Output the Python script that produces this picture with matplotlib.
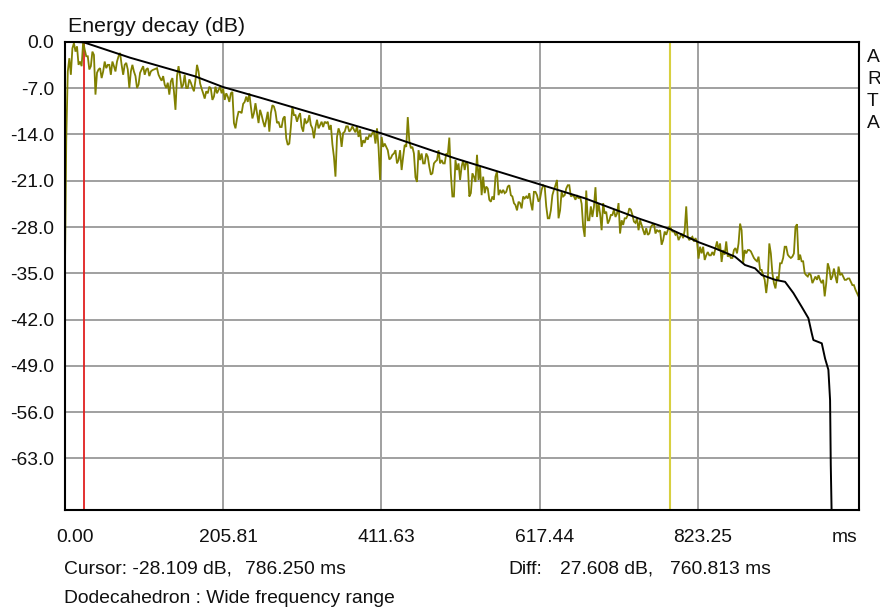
import numpy as np
import matplotlib
matplotlib.use("Agg")
import matplotlib.pyplot as plt

# Energy envelope (dB), sampled every 2 ms starting at 0 ms (10 samples per row)
time_step_ms = 2.0
energy_db = [
    -38.5, -15.0, -4.5, -2.5, -5.0, -1.0, -0.2, -1.5, -0.7, -3.5,
    -3.0, -3.7, 0.0, -1.2, -2.2, -2.2, -4.2, -3.7, -1.5, -2.0,
    -8.0, -4.7, -4.2, -4.0, -5.5, -4.5, -3.0, -4.0, -3.5, -3.5,
    -5.0, -3.0, -3.7, -4.5, -3.0, -2.2, -1.7, -3.5, -5.0, -3.5,
    -3.2, -4.2, -7.0, -4.5, -3.5, -4.5, -5.2, -7.0, -6.5, -4.7,
    -4.2, -3.7, -5.0, -4.2, -4.0, -5.2, -4.5, -4.3, -4.2, -4.1,
    -4.0, -5.0, -5.5, -5.9, -5.2, -6.5, -7.0, -6.2, -8.0, -6.0,
    -5.5, -7.5, -10.3, -5.2, -3.7, -5.2, -7.0, -6.5, -5.0, -7.0,
    -7.0, -5.7, -6.2, -6.9, -7.5, -5.8, -3.5, -4.5, -6.3, -7.1,
    -7.8, -8.6, -7.5, -7.8, -6.8, -7.1, -8.8, -8.3, -6.8, -7.8,
    -7.3, -6.8, -7.8, -7.1, -8.8, -7.8, -8.3, -9.1, -7.8, -7.6,
    -12.3, -13.1, -11.6, -10.6, -10.6, -10.8, -9.4, -9.1, -8.3, -9.1,
    -7.8, -9.8, -11.6, -10.8, -9.3, -10.8, -12.3, -10.3, -11.1, -12.1,
    -12.9, -11.8, -10.6, -13.6, -10.8, -9.6, -9.8, -10.6, -12.3, -12.1,
    -12.9, -12.9, -11.6, -11.3, -14.6, -15.6, -15.4, -12.9, -9.8, -11.1,
    -11.1, -12.1, -11.3, -10.8, -12.9, -13.6, -11.6, -12.3, -12.1, -11.1,
    -12.6, -13.1, -14.6, -12.9, -11.8, -13.1, -12.6, -12.1, -12.9, -12.1,
    -12.3, -12.1, -13.3, -12.6, -15.5, -17.4, -20.4, -14.4, -13.1, -13.8,
    -15.9, -13.8, -13.6, -12.8, -12.8, -13.6, -13.3, -12.8, -13.3, -13.7,
    -12.8, -14.4, -13.3, -15.9, -14.9, -15.3, -14.4, -14.8, -14.1, -14.3,
    -13.8, -13.6, -15.4, -13.1, -16.0, -20.9, -14.4, -15.9, -15.4, -15.9,
    -16.4, -17.8, -17.6, -17.1, -16.9, -16.4, -18.4, -17.9, -16.4, -19.4,
    -17.4, -15.6, -15.9, -11.4, -15.0, -16.1, -15.9, -16.9, -20.5, -21.2,
    -16.4, -17.9, -16.9, -18.4, -18.4, -16.9, -17.4, -18.9, -20.1, -19.9,
    -18.4, -18.1, -17.9, -16.4, -18.4, -17.9, -18.4, -18.4, -16.9, -17.1,
    -14.5, -20.0, -23.4, -23.4, -17.9, -19.4, -18.4, -20.9, -18.9, -17.9,
    -19.4, -18.1, -18.6, -23.4, -22.9, -19.9, -20.4, -21.2, -17.1, -20.9,
    -18.9, -23.2, -20.4, -22.9, -21.9, -22.2, -23.9, -24.2, -23.4, -23.9,
    -20.4, -19.6, -23.2, -22.4, -22.9, -22.4, -22.9, -22.7, -21.9, -21.7,
    -23.2, -23.4, -24.4, -24.7, -25.5, -24.2, -24.4, -25.2, -23.4, -23.7,
    -23.4, -23.7, -22.9, -24.4, -25.5, -22.7, -22.7, -23.2, -24.2, -23.7,
    -22.4, -21.7, -21.9, -24.9, -26.7, -26.7, -25.5, -23.2, -22.4, -21.7,
    -20.9, -26.7, -25.5, -22.7, -23.4, -23.2, -22.2, -21.7, -21.7, -23.4,
    -23.2, -23.4, -23.9, -23.2, -23.7, -23.4, -24.5, -28.0, -29.5, -22.5,
    -27.0, -27.0, -24.9, -26.5, -25.0, -22.0, -26.5, -24.4, -26.0, -28.5,
    -24.4, -26.0, -25.7, -27.5, -27.0, -26.2, -26.2, -25.4, -26.5, -26.0,
    -24.4, -29.0, -27.0, -27.7, -26.7, -26.7, -26.2, -25.2, -25.4, -26.2,
    -27.2, -27.4, -26.7, -28.5, -27.0, -27.7, -28.5, -29.2, -28.2, -29.2,
    -29.0, -28.0, -27.7, -27.5, -29.0, -28.5, -28.7, -28.5, -30.7, -30.0,
    -28.7, -29.2, -28.5, -28.0, -28.2, -28.7, -28.7, -29.2, -29.0, -30.0,
    -29.5, -29.0, -29.7, -28.5, -24.9, -29.5, -30.0, -29.7, -29.5, -30.2,
    -29.7, -30.2, -32.8, -31.0, -32.0, -31.0, -33.0, -32.3, -31.8, -32.3,
    -32.3, -31.8, -32.3, -31.2, -30.2, -31.5, -30.5, -33.3, -31.5, -32.2,
    -30.2, -32.5, -32.2, -32.7, -32.7, -31.5, -31.2, -32.0, -30.5, -27.5,
    -28.5, -33.5, -31.5, -32.0, -31.5, -31.5, -31.7, -32.2, -32.7, -33.0,
    -33.2, -32.5, -34.5, -34.5, -35.3, -36.0, -38.0, -36.0, -30.5, -32.0,
    -35.0, -36.5, -37.3, -35.5, -36.0, -33.5, -33.5, -32.7, -31.0, -31.0,
    -32.2, -32.5, -32.7, -32.5, -32.0, -28.0, -27.6, -33.0, -32.2, -33.2,
    -33.2, -35.0, -35.3, -35.5, -35.0, -35.3, -36.5, -36.0, -35.5, -36.0,
    -35.3, -36.0, -36.5, -36.0, -38.5, -36.5, -33.5, -34.3, -36.0, -35.5,
    -34.3, -35.5, -36.5, -34.0, -35.3, -35.0, -35.5, -36.0, -36.0, -35.8,
    -35.8, -36.3, -36.8, -36.8, -37.5, -38.0, -38.5,
]
energy_ms = np.arange(len(energy_db)) * time_step_ms

# Backward-integrated (Schroeder) decay curve
schroeder_ms = [6.0, 25.0, 85.0, 169.4, 205.8, 253.9, 338.4, 411.6, 507.4,
                617.4, 676.4, 748.0, 786.3, 823.8, 845.4, 871.4, 884.4,
                897.4, 906.2, 923.5, 936.5, 947.3, 958.2, 966.8, 971.2,
                973.3, 984.2, 988.5, 992.8, 995.0, 995.9, 997.6]
schroeder_db = [0.0, -0.1, -2.42, -5.23, -6.85, -8.45, -11.34, -13.85, -17.63,
                -21.56, -23.68, -26.8, -28.3, -30.3, -31.24, -32.5, -33.76,
                -34.26, -35.27, -36.0, -36.3, -38.0, -40.1, -41.8, -44.1,
                -45.1, -45.6, -47.9, -49.6, -54.2, -64.0, -75.0]

x_ticks = [0.0, 205.81, 411.63, 617.44, 823.25]
x_tick_labels = ["0.00", "205.81", "411.63", "617.44", "823.25"]
y_ticks = [0.0, -7.0, -14.0, -21.0, -28.0, -35.0, -42.0, -49.0, -56.0, -63.0]
y_tick_labels = ["0.0", "-7.0", "-14.0", "-21.0", "-28.0", "-35.0",
                 "-42.0", "-49.0", "-56.0", "-63.0"]

cursor_db = -28.109
cursor_ms = 786.250
diff_db = 27.608
diff_ms = 760.813
marker_ms = cursor_ms - diff_ms

X_MAX = 1032.6
Y_MIN = -70.8

W, H = 880, 608
FONT = ["Liberation Sans", "DejaVu Sans"]
FS = 13.9

fig = plt.figure(figsize=(W / 100, H / 100), dpi=100)
fig.patch.set_facecolor("white")

left_px, right_px, top_px, bottom_px = 64.7, 859.0, 41.7, 510.0
ax = fig.add_axes([left_px / W, 1 - bottom_px / H,
                   (right_px - left_px) / W, (bottom_px - top_px) / H])
ax.set_xlim(0, X_MAX)
ax.set_ylim(Y_MIN, 0)
ax.set_facecolor("white")

# grid
for xt in x_ticks[1:]:
    ax.axvline(xt, color="#a0a0a0", lw=1.4, zorder=1)
for yt in y_ticks[1:]:
    ax.axhline(yt, color="#a0a0a0", lw=1.4, zorder=1)

# cursors
ax.axvline(marker_ms, color="#e02020", lw=1.3, zorder=2)
ax.axvline(cursor_ms, color="#d8d040", lw=1.5, zorder=2)

# curves
ax.plot(energy_ms, energy_db, color="#808000", lw=1.3, zorder=3,
        solid_joinstyle="miter")
ax.plot(schroeder_ms, schroeder_db, color="black", lw=1.4, zorder=4)

ax.set_xticks([])
ax.set_yticks([])
for sp in ax.spines.values():
    sp.set_linewidth(1.5)
    sp.set_color("black")
    sp.set_zorder(5)

# tick labels
for xt, lab in zip(x_ticks, x_tick_labels):
    dx = 10.3 if xt == 0.0 else 5.0
    ax.annotate(lab, xy=(xt, 0), xycoords=("data", "axes fraction"),
                xytext=(dx, -31.7), textcoords="offset pixels",
                ha="center", va="baseline", fontsize=FS, family=FONT,
                color="#101010")
for yt, lab in zip(y_ticks, y_tick_labels):
    ax.annotate(lab, xy=(0, yt), xycoords=("axes fraction", "data"),
                xytext=(-10.7, -6.6), textcoords="offset pixels",
                ha="right", va="baseline", fontsize=FS, family=FONT,
                color="#101010")


def ftext(x_px, y_px, s, **kw):
    kw.setdefault("fontsize", FS)
    kw.setdefault("family", FONT)
    kw.setdefault("color", "#101010")
    fig.text(x_px / W, 1 - y_px / H, s, va="baseline", **kw)


ftext(68, 31.7, "Energy decay (dB)", fontsize=15.4)
ftext(845, 541.7, "ms", ha="center")
ftext(64, 574, f"Cursor: {cursor_db:.3f} dB,")
ftext(245, 574, f"{cursor_ms:.3f} ms")
ftext(508, 574, "Diff:")
ftext(560, 574, f"{diff_db:.3f} dB,")
ftext(670, 574, f"{diff_ms:.3f} ms")
ftext(64, 603, "Dodecahedron : Wide frequency range")

# vertical program tag
for i, ch in enumerate("ARTA"):
    ftext(867, 61.5 + i * 22.3, ch)

fig.savefig("out.png", dpi=100, facecolor="white")
